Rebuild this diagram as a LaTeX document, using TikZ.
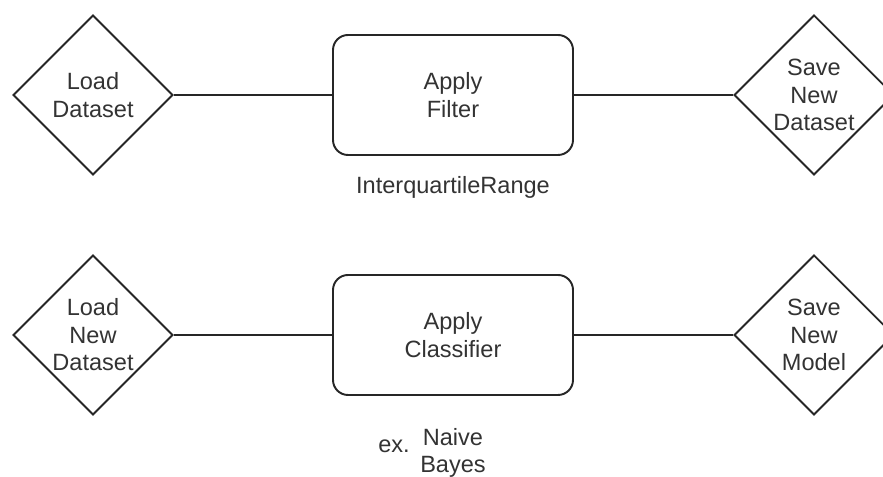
\documentclass[tikz,border=0pt]{standalone}
\usepackage{fontspec}
\setmainfont{Liberation Sans}
\usetikzlibrary{shapes.geometric}

\tikzstyle{block} = [draw, align = center, minimum height = 2.4cm, minimum width = 4.8cm, rounded corners = 0.3cm, line width = 1.1pt]
\tikzstyle{decision} = [draw, diamond, aspect = 1, align = center, inner sep = -4pt, minimum width = 3.2cm, minimum height = 3.2cm, line width = 1.1pt]
\tikzstyle{note} = [align = center, inner sep = 0pt]

\begin{document}
\begin{tikzpicture}[font = \fontsize{13.4}{15.6}\selectfont, text = black!80, draw = black!85]
		\useasboundingbox (0, 0) rectangle (17.66, 9.54);
		\clip (0, 0) rectangle (17.66, 9.54);
		% filter row
		\node [decision] at (1.86, 7.64) (1) {Load\\Dataset};
		\node [block] at (9.06, 7.64) (2) {Apply\\Filter};
		\node [decision] at (16.28, 7.64) (3) {Save\\New\\Dataset};
		\node [note] at (9.06, 5.8) (4) {InterquartileRange};
		% classifier row
		\node [decision] at (1.86, 2.84) (5) {Load\\New\\Dataset};
		\node [block] at (9.06, 2.84) (6) {Apply\\Classifier};
		\node [decision] at (16.28, 2.84) (7) {Save\\New\\Model};
		\node [note, anchor = base] at (7.88, 0.48) (8) {ex.};
		\node [note] at (9.06, 0.48) (9) {Naive\\Bayes};

		\draw [line width = 1.1pt] (1) -- (2);
		\draw [line width = 1.1pt] (2) -- (3);
		\draw [line width = 1.1pt] (5) -- (6);
		\draw [line width = 1.1pt] (6) -- (7);
	\end{tikzpicture}
\end{document}
